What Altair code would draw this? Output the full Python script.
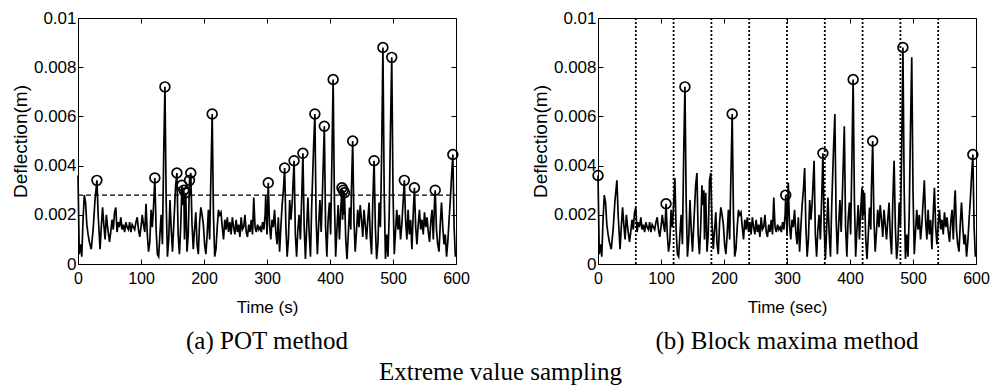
import altair as alt
import pandas as pd

# ---- data ----
time_s = [0, 2, 4, 6, 8, 10, 12, 14, 16, 18, 21, 24, 27, 30, 32, 35, 37, 39, 41, 43, 45, 47, 50, 52, 54, 56, 58, 60,
          62, 64, 66, 68, 70, 72, 74, 76, 78, 80, 82, 84, 86, 88, 90, 92, 94, 96, 98, 100, 102, 104, 106, 108, 110,
          112, 114, 116, 118, 120, 122, 124, 126, 128, 130, 132, 134, 136, 138, 140, 142, 144, 146, 148, 150, 152,
          155, 157, 159, 161, 163, 165, 166, 168, 169, 171, 173, 175, 177, 179, 181, 183, 185, 187, 189, 191, 193,
          195, 197, 199, 201, 203, 205, 207, 209, 211, 213, 215, 217, 219, 221, 223, 225, 227, 229, 231, 233, 235,
          237, 239, 241, 243, 245, 247, 249, 251, 253, 255, 257, 259, 261, 263, 265, 267, 269, 271, 273, 275, 277,
          279, 281, 283, 285, 287, 289, 291, 293, 295, 297, 298, 300, 302, 304, 306, 308, 310, 312, 314, 316, 318,
          320, 322, 324, 326, 328, 330, 332, 334, 336, 338, 340, 343, 345, 347, 349, 351, 353, 355, 357, 359, 361,
          363, 365, 367, 369, 371, 374, 376, 378, 380, 382, 384, 386, 388, 391, 393, 395, 397, 399, 401, 403, 405,
          407, 409, 411, 413, 415, 417, 419, 420, 421, 422, 423, 425, 427, 429, 431, 433, 434, 436, 438, 440, 442,
          444, 446, 448, 450, 452, 454, 456, 458, 460, 462, 464, 466, 468, 470, 472, 474, 476, 478, 480, 482, 484,
          486, 488, 490, 492, 494, 496, 498, 500, 502, 504, 506, 508, 510, 512, 514, 516, 518, 520, 522, 524, 526,
          528, 530, 532, 534, 536, 538, 540, 542, 544, 546, 548, 550, 552, 554, 556, 558, 560, 562, 564, 566, 567,
          569, 571, 573, 575, 577, 579, 581, 583, 585, 587, 589, 591, 593, 595, 597, 599, 600]
defl_mm = [3.6, 0.4, 0.8, 0.3, 1.8, 2.8, 2.5, 1.6, 1.2, 0.9, 0.6, 1.4, 2.6, 3.4, 2.0, 0.6, 1.5, 2.3, 1.6, 1.0, 2.0,
           1.5, 0.9, 1.3, 1.8, 1.4, 2.1, 2.3,
           1.3, 1.7, 1.5, 1.9, 1.4, 1.6, 1.3, 1.7, 1.5, 1.4, 1.7, 1.3, 1.6, 1.5, 1.4, 1.7, 1.9, 1.4, 1.1, 1.5, 2.0,
           1.6, 1.3, 2.45, 1.2,
           0.5, 0.9, 2.2, 1.5, 2.4, 3.5, 1.4, 0.4, 0.3, 1.2, 2.0, 0.8, 4.4, 7.2, 2.5, 0.3, 1.0, 2.6, 1.4, 0.5, 1.6,
           3.2, 3.7, 1.2, 0.4, 1.5, 3.2, 2.4, 3.0, 1.0, 2.9, 0.5, 1.2, 3.4, 3.7, 1.6, 0.6, 1.4, 2.1, 0.8, 0.4, 1.7,
           2.3, 2.0, 1.6, 0.8, 0.4, 1.2, 2.2, 1.0, 3.6, 6.1, 2.0, 0.3, 0.6, 1.5, 2.2, 2.0, 2.1, 1.5, 1.0, 1.8, 1.4,
           1.9, 1.3, 1.7, 1.2, 1.9, 1.5, 1.2, 1.8, 1.3, 1.6, 1.1, 1.9, 1.4, 1.5, 2.0, 1.3, 1.1, 1.6, 1.3, 1.8, 1.2,
           2.7, 1.5, 1.3, 1.6, 1.4, 1.5, 1.3, 1.7, 1.4, 2.0, 2.8, 1.2, 3.3, 1.6, 1.0, 1.8, 1.5, 2.2, 1.3, 0.8, 1.9,
           0.5, 1.5, 2.4, 3.0, 3.9, 1.5, 0.3, 1.0, 2.6, 1.8, 2.5, 4.2, 1.2, 0.3, 1.4, 2.0, 1.0, 2.6, 4.5, 1.5, 0.2,
           1.5, 2.7, 1.2, 0.3, 2.4, 4.8, 6.1, 1.8, 0.4, 1.6, 2.6, 1.3, 2.9, 5.6, 1.5, 0.3, 1.8, 2.5, 1.2, 4.2, 7.5,
           2.6, 0.3, 1.4, 2.4, 1.0, 2.2, 3.1, 1.8, 3.0, 2.0, 2.9, 1.0, 0.2, 1.2, 2.3, 1.4, 3.0, 5.0, 1.8, 0.5, 1.3,
           2.2, 1.5, 2.4, 1.8, 1.1, 2.2, 1.6, 1.0, 1.8, 2.5, 1.1, 0.4, 2.6, 4.2, 1.5, 0.2, 0.8, 2.5, 1.5, 4.5, 8.8,
           3.0, 0.2, 1.2, 0.3, 2.0, 5.5, 8.4, 3.0, 0.4, 1.3, 2.2, 1.4, 2.0, 1.0, 1.6, 2.5, 3.4, 1.8, 1.0, 2.2, 1.2,
           1.8, 0.6, 2.0, 3.1, 1.5, 0.8, 1.6, 2.2, 1.4, 1.8, 1.2, 2.1, 1.5, 1.9, 1.3, 0.9, 1.7, 2.2, 1.0, 2.6, 3.0,
           1.4, 0.8, 0.5, 1.6, 2.5, 1.5, 0.8, 1.2, 0.3, 0.9, 1.8, 2.6, 3.6, 4.45, 1.5, 0.3, 0.5]

pot_t = [30, 122, 138, 157, 165, 168, 171, 177, 179, 213, 302, 328, 343, 357, 376, 391, 405, 419, 421, 423, 436,
         470, 484, 498, 518, 534, 567, 595]
pot_mm = [3.4, 3.5, 7.2, 3.7, 3.2, 3.0, 2.9, 3.4, 3.7, 6.1, 3.3, 3.9, 4.2, 4.5, 6.1, 5.6, 7.5, 3.1, 3.0, 2.9, 5.0,
          4.2, 8.8, 8.4, 3.4, 3.1, 3.0, 4.45]
threshold_m = 0.0028

bm_t = [0, 108, 138, 213, 298, 357, 405, 436, 484, 595]
bm_mm = [3.6, 2.45, 7.2, 6.1, 2.8, 4.5, 7.5, 5.0, 8.8, 4.45]
block_edges = [60, 120, 180, 240, 300, 360, 420, 480, 540]

x_ticks = [0, 100, 200, 300, 400, 500, 600]
y_ticks = [0, 0.002, 0.004, 0.006, 0.008, 0.01]

series = pd.DataFrame({"t": time_s, "v": [m / 1000 for m in defl_mm]})
pot = pd.DataFrame({"t": pot_t, "v": [m / 1000 for m in pot_mm]})
bm = pd.DataFrame({"t": bm_t, "v": [m / 1000 for m in bm_mm]})
thr = pd.DataFrame({"t0": [0], "t1": [600], "v": [threshold_m]})
blocks = pd.DataFrame({"t": block_edges, "v0": [0.0] * len(block_edges), "v1": [0.01] * len(block_edges)})

W, H = 378, 246
xs = alt.Scale(domain=[0, 600], nice=False, zero=False)
ys = alt.Scale(domain=[0, 0.01], nice=False)


def label_x(title):
    return alt.Axis(orient="bottom", values=x_ticks, ticks=False, tickSize=0, domain=False, grid=False,
                    labelFlush=False, labelPadding=6, labelFontSize=16, title=title, titleFontSize=17,
                    titlePadding=13, format="d")


def label_y():
    return alt.Axis(orient="left", values=y_ticks, ticks=False, tickSize=0, domain=False, grid=False,
                    labelPadding=2, labelFontSize=17, format="~g", title="Deflection(m)", titleFontSize=19,
                    titlePadding=3)


def tick_axis(orient, vals):
    return alt.Axis(orient=orient, values=vals, ticks=True, tickSize=5, offset=-5, labels=False,
                    domain=False, grid=False, title=None, tickColor="black", tickWidth=1)


def panel(title_x, circles, extra, caption):
    line = alt.Chart(series).mark_line(color="black", strokeWidth=1.7).encode(
        x=alt.X("t:Q", scale=xs, axis=label_x(title_x)),
        y=alt.Y("v:Q", scale=ys, axis=label_y()),
    )
    pts = alt.Chart(circles).mark_point(shape="circle", filled=False, color="black", size=95,
                                        strokeWidth=1.7, opacity=1).encode(
        x=alt.X("t:Q", scale=xs, axis=tick_axis("bottom", x_ticks)),
        y=alt.Y("v:Q", scale=ys, axis=tick_axis("left", y_ticks)),
    )
    return alt.layer(line, pts, extra).resolve_axis(x="independent", y="independent").properties(
        width=W, height=H,
        title=alt.TitleParams(caption, orient="bottom", fontSize=25, font="Liberation Serif",
                              fontWeight="normal", color="black", offset=14, anchor="middle"),
    )


thr_rule = alt.Chart(thr).mark_rule(color="black", strokeWidth=1.4, strokeDash=[5, 3]).encode(
    x=alt.X("t0:Q", scale=xs, axis=tick_axis("top", x_ticks)),
    x2="t1:Q",
    y=alt.Y("v:Q", scale=ys, axis=tick_axis("right", y_ticks)),
)
block_rules = alt.Chart(blocks).mark_rule(color="black", strokeWidth=1.8, strokeDash=[2, 2]).encode(
    x=alt.X("t:Q", scale=xs, axis=tick_axis("top", x_ticks)),
    y=alt.Y("v0:Q", scale=ys, axis=tick_axis("right", y_ticks)),
    y2="v1:Q",
)

left = panel("Time (s)", pot, thr_rule, "(a) POT method")
right = panel("Time (sec)", bm, block_rules, "(b) Block maxima method")

chart = alt.hconcat(left, right, spacing=60).properties(
    title=alt.TitleParams("Extreme value sampling", orient="bottom", fontSize=25, font="Liberation Serif",
                          fontWeight="normal", color="black", offset=5, anchor="middle"),
    padding={"left": 10, "top": 8, "right": 0, "bottom": 0},
    background="white",
).configure_view(stroke="black", strokeWidth=1).configure_axis(
    labelFont="Liberation Sans", titleFont="Liberation Sans", labelColor="black", titleColor="black",
    titleFontWeight="normal",
)

chart.save("out.html", embed_options={"renderer": "svg", "actions": False})
